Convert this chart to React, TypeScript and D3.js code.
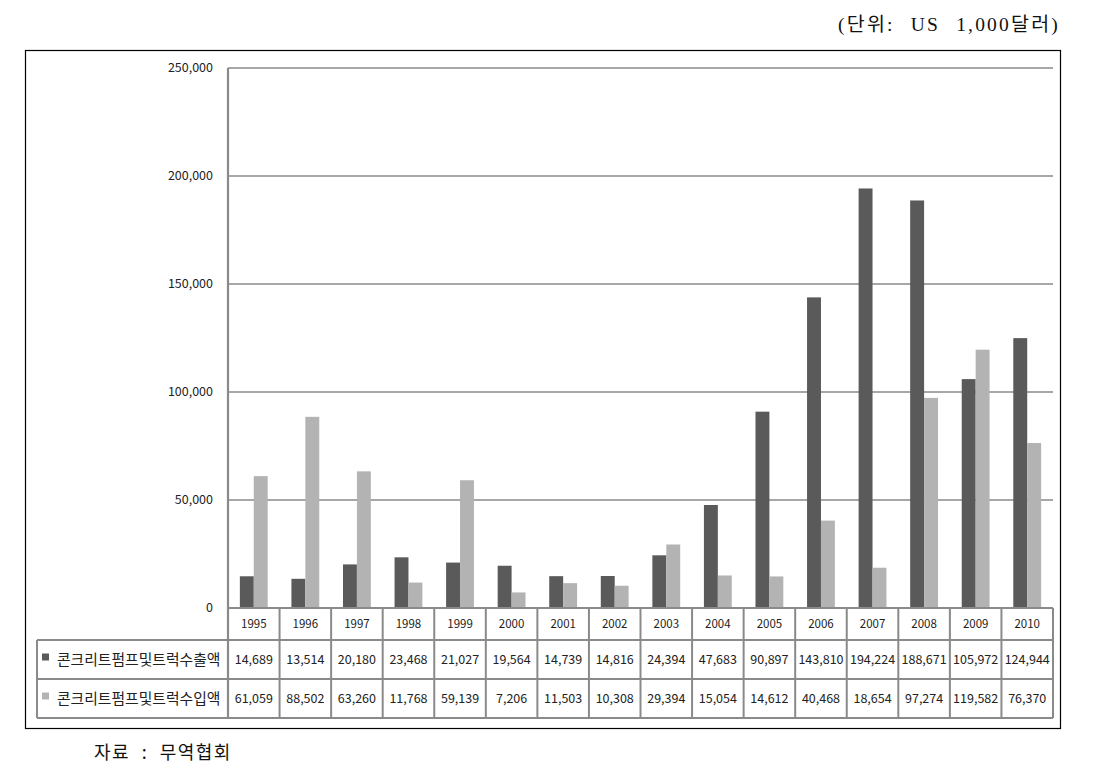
import React from 'react';
import * as d3 from 'd3';

// 연도별 콘크리트펌프 및 트럭 수출입액 (단위: US 1,000달러)
const years = ['1995', '1996', '1997', '1998', '1999', '2000', '2001', '2002', '2003', '2004', '2005', '2006', '2007', '2008', '2009', '2010'];
const exportValues = [14689, 13514, 20180, 23468, 21027, 19564, 14739, 14816, 24394, 47683, 90897, 143810, 194224, 188671, 105972, 124944];
const importValues = [61059, 88502, 63260, 11768, 59139, 7206, 11503, 10308, 29394, 15054, 14612, 40468, 18654, 97274, 119582, 76370];
const seriesNames = ['콘크리트펌프및트럭수출액', '콘크리트펌프및트럭수입액'];
const yTicks = [0, 50000, 100000, 150000, 200000, 250000];
const unitLabel = '(단위: US 1,000달러)';
const sourceLabel = '자료 : 무역협회';

const W = 1097;
const H = 775;
const plotLeft = 228;
const plotRight = 1053;
const plotTop = 68;
const plotBottom = 608;
const tableLeft = 37;
const rowLines = [608, 640, 679, 718];

const colors = ['#5a5a5a', '#b3b3b3'];
const gridColor = '#8a8a8a';
const fmt = d3.format(',');
const numFont = '"Noto Sans CJK KR", "Noto Sans", sans-serif';

export default function App() {
  const x = d3.scaleBand<string>().domain(years).range([plotLeft, plotRight]).padding(0);
  const y = d3.scaleLinear().domain([0, 250000]).range([plotBottom, plotTop]);
  const bw = x.bandwidth() * 0.27;

  const series = [exportValues, importValues];
  const rowCenters = [
    (rowLines[0] + rowLines[1]) / 2,
    (rowLines[1] + rowLines[2]) / 2,
    (rowLines[2] + rowLines[3]) / 2,
  ];

  return (
    <svg
      width={W}
      height={H}
      style={{ position: 'absolute', left: 0, top: 0, background: '#fff' }}
    >
      {/* unit label */}
      <text
        x={1060}
        y={31}
        textAnchor="end"
        fontSize={19.5}
        fontFamily='"Liberation Serif", "DejaVu Serif", "Noto Sans CJK KR", serif'
        fill="#111"
        letterSpacing={2.2}
        style={{ wordSpacing: '9px' }}
      >
        {unitLabel}
      </text>

      {/* outer frame */}
      <rect x={25.5} y={50.5} width={1035} height={678} fill="none" stroke="#000" strokeWidth={1.2} />

      {/* gridlines */}
      {yTicks.filter(t => t > 0).map(t => (
        <line key={t} x1={plotLeft} x2={plotRight} y1={y(t)} y2={y(t)} stroke={gridColor} strokeWidth={1.6} />
      ))}

      {/* y labels */}
      {yTicks.map(t => (
        <text
          key={t}
          x={213}
          y={y(t)}
          dy="0.35em"
          textAnchor="end"
          fontSize={12.5}
          fontFamily={numFont}
          fill="#222"
        >
          {fmt(t)}
        </text>
      ))}

      {/* bars */}
      {series.map((vals, si) =>
        vals.map((v, i) => {
          const cx = (x(years[i]) as number) + x.bandwidth() / 2;
          return (
            <rect
              key={`${si}-${i}`}
              x={si === 0 ? cx - bw : cx}
              y={y(v)}
              width={bw}
              height={plotBottom - y(v)}
              fill={colors[si]}
            />
          );
        })
      )}

      {/* data table borders */}
      <line x1={plotLeft} x2={plotRight} y1={rowLines[0]} y2={rowLines[0]} stroke={gridColor} strokeWidth={2} />
      {rowLines.slice(1).map(ry => (
        <line key={ry} x1={tableLeft} x2={plotRight} y1={ry} y2={ry} stroke={gridColor} strokeWidth={2} />
      ))}
      <line x1={tableLeft} x2={tableLeft} y1={rowLines[1]} y2={rowLines[3]} stroke={gridColor} strokeWidth={2} />
      <line x1={plotLeft} x2={plotLeft} y1={plotTop} y2={rowLines[3]} stroke={gridColor} strokeWidth={2.2} />
      {years.map(yr => {
        const bx = (x(yr) as number) + x.bandwidth();
        return (
          <line key={yr} x1={bx} x2={bx} y1={rowLines[0]} y2={rowLines[3]} stroke={gridColor} strokeWidth={2} />
        );
      })}

      {/* year row */}
      {years.map(yr => (
        <text
          key={yr}
          x={(x(yr) as number) + x.bandwidth() / 2}
          y={rowCenters[0]}
          dy="0.35em"
          textAnchor="middle"
          fontSize={11.5}
          fontFamily={numFont}
          fill="#222"
        >
          {yr}
        </text>
      ))}

      {/* legend + values */}
      {series.map((vals, si) => (
        <g key={si}>
          <rect x={42} y={rowCenters[si + 1] - 6} width={7} height={7} fill={colors[si]} />
          <text
            x={57}
            y={rowCenters[si + 1]}
            dy="0.35em"
            fontSize={14.8}
            fontFamily={numFont}
            fill="#222"
          >
            {seriesNames[si]}
          </text>
          {vals.map((v, i) => (
            <text
              key={i}
              x={(x(years[i]) as number) + x.bandwidth() / 2}
              y={rowCenters[si + 1]}
              dy="0.35em"
              textAnchor="middle"
              fontSize={12.5}
              fontFamily={numFont}
              fill="#222"
            >
              {fmt(v)}
            </text>
          ))}
        </g>
      ))}

      {/* source */}
      <text
        x={94}
        y={759}
        fontSize={18}
        fontFamily='"Noto Sans CJK KR", sans-serif'
        fill="#111"
        letterSpacing={1.5}
        style={{ wordSpacing: '6px' }}
      >
        {sourceLabel}
      </text>
    </svg>
  );
}
